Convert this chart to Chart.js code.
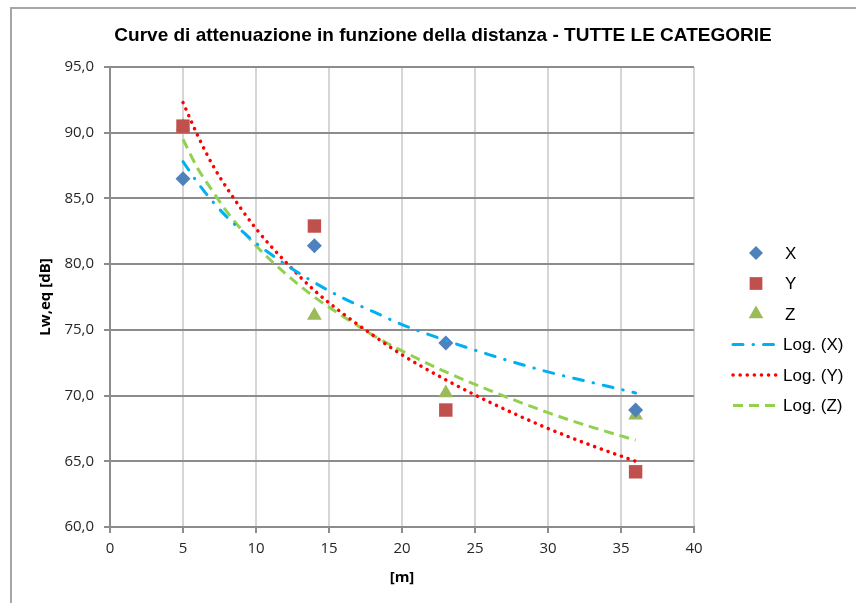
<!DOCTYPE html>
<html>
<head>
<meta charset="utf-8">
<script src="https://cdn.jsdelivr.net/npm/chart.js@4.4.1/dist/chart.umd.min.js"></script>
<style>
html,body{margin:0;padding:0;background:#fff;}
#wrap{position:relative;width:856px;height:603px;overflow:hidden;}
#frame{position:absolute;left:10px;top:7px;width:900px;height:700px;border-top:2px solid #a6a6a6;border-left:2px solid #a6a6a6;}
#c{position:absolute;left:0;top:0;}
</style>
</head>
<body>
<div id="wrap"><div id="frame"></div><canvas id="c" width="856" height="603"></canvas></div>
<script>
// ---- data ----
const distances = [5, 14, 23, 36];
const seriesX = [86.5, 81.4, 74.0, 68.9];
const seriesY = [90.5, 82.9, 68.9, 64.2];
const seriesZ = [90.5, 76.1, 70.2, 68.5];

const trendDistances = [5, 6, 7, 8, 10, 12, 14, 16, 18, 20, 23, 26, 30, 33, 36];
const trendX = [87.8, 86.2, 84.8, 83.6, 81.6, 80.0, 78.6, 77.4, 76.4, 75.4, 74.2, 73.1, 71.8, 71.0, 70.2];
const trendY = [92.3, 89.8, 87.6, 85.8, 82.7, 80.2, 78.0, 76.2, 74.6, 73.1, 71.2, 69.5, 67.5, 66.2, 65.0];
const trendZ = [89.5, 87.3, 85.6, 84.0, 81.4, 79.3, 77.5, 76.0, 74.6, 73.4, 71.8, 70.4, 68.7, 67.6, 66.6];

const xTicks = [0, 5, 10, 15, 20, 25, 30, 35, 40];
const yTicks = [60, 65, 70, 75, 80, 85, 90, 95];

const seriesNames = ['X', 'Y', 'Z'];
const trendNames = ['Log. (X)', 'Log. (Y)', 'Log. (Z)'];
const chartTitle = 'Curve di attenuazione in funzione della distanza - TUTTE LE CATEGORIE';
const xTitle = '[m]';
const yTitle = 'Lw,eq [dB]';

// ---- styles ----
const markerColors = ['#4f81bd', '#c0504d', '#9bbb59'];
const markerStyles = ['rectRot', 'rect', 'triangle'];
const markerRadius = [7.5, 9.5, 8.5];
const legendMarkerRadius = [7, 9, 8.5];
const trendColors = ['#00b0f0', '#ff0000', '#92d050'];
const trendDash = [[10, 10, 0.5, 10], [0.1, 7], [10, 6]];
const trendCap = ['round', 'round', 'butt'];
const trendWidth = [3, 3.5, 3];

function pts(xs, ys) { return xs.map((x, i) => ({x: x, y: ys[i]})); }

const markerData = [seriesX, seriesY, seriesZ];
const trendData = [trendX, trendY, trendZ];

const datasets = [];
trendData.forEach((t, i) => {
  datasets.push({
    label: trendNames[i],
    data: pts(trendDistances, t),
    showLine: true,
    pointRadius: 0,
    borderColor: trendColors[i],
    backgroundColor: trendColors[i],
    borderWidth: trendWidth[i],
    borderDash: trendDash[i],
    borderCapStyle: trendCap[i],
    cubicInterpolationMode: 'monotone',
    order: 0
  });
});
markerData.forEach((s, i) => {
  datasets.push({
    label: seriesNames[i],
    data: pts(distances, s),
    showLine: false,
    pointStyle: markerStyles[i],
    pointRadius: markerRadius[i],
    backgroundColor: markerColors[i],
    borderColor: markerColors[i],
    borderWidth: 0,
    pointBorderWidth: 0,
    order: 1
  });
});

const tickFont = {family: '"Open Sans", "Noto Sans", sans-serif', size: 15};
const axisTitleFont = {family: '"Open Sans", "Noto Sans", sans-serif', size: 15, weight: 'bold'};

function drawMarker(c, style, x, y, r, color) {
  c.save();
  c.fillStyle = color;
  c.strokeStyle = color;
  Chart.helpers.drawPoint(c, {pointStyle: style, radius: r, borderWidth: 0, rotation: 0}, x, y);
  c.restore();
}

const legendPlugin = {
  id: 'excelLegend',
  afterDraw(chart) {
    const c = chart.ctx;
    const area = chart.chartArea;
    const cx = area.right + 62;
    const x0 = area.right + 39, x1 = area.right + 87;
    const tx = area.right + 91;
    const y0 = 253, step = 30.5;
    c.save();
    c.font = '17px "Liberation Sans", Arial, sans-serif';
    c.textBaseline = 'middle';
    c.textAlign = 'left';
    for (let i = 0; i < 3; i++) {
      const y = y0 + step * i;
      drawMarker(c, markerStyles[i], cx, y, legendMarkerRadius[i], markerColors[i]);
      c.fillStyle = '#000';
      c.fillText(seriesNames[i], tx, y + 1);
    }
    for (let i = 0; i < 3; i++) {
      const y = y0 + step * (i + 3);
      c.save();
      c.strokeStyle = trendColors[i];
      c.lineWidth = trendWidth[i];
      c.setLineDash(trendDash[i]);
      c.lineCap = trendCap[i];
      c.beginPath();
      c.moveTo(x0, y);
      c.lineTo(x1, y);
      c.stroke();
      c.restore();
      c.fillStyle = '#000';
      c.fillText(trendNames[i], tx - 2, y + 1);
    }
    c.restore();
  }
};

const titlePlugin = {
  id: 'excelTitle',
  afterDraw(chart) {
    const c = chart.ctx;
    c.save();
    c.font = 'bold 19px "Liberation Sans", Arial, sans-serif';
    c.fillStyle = '#000';
    c.textAlign = 'center';
    c.textBaseline = 'middle';
    c.fillText(chartTitle, 443, 36);
    c.restore();
  }
};

new Chart(document.getElementById('c'), {
  type: 'scatter',
  data: {datasets: datasets},
  options: {
    responsive: false,
    animation: false,
    layout: {padding: {left: 33, right: 162, top: 67, bottom: 12}},
    plugins: {legend: {display: false}, tooltip: {enabled: false}, title: {display: false}},
    scales: {
      x: {
        type: 'linear',
        min: xTicks[0],
        max: xTicks[xTicks.length - 1],
        afterBuildTicks: s => { s.ticks = xTicks.map(v => ({value: v})); },
        afterFit: s => { s.height = 64; },
        ticks: {font: tickFont, color: '#262626', padding: 7, maxRotation: 0, callback: v => String(v)},
        grid: {color: '#d6d6d6', lineWidth: 2, tickLength: 6, tickColor: '#8c8c8c', tickWidth: 2},
        border: {color: '#8c8c8c', width: 2},
        title: {display: true, text: xTitle, font: axisTitleFont, color: '#000', padding: {top: 12, bottom: 4}}
      },
      y: {
        type: 'linear',
        min: yTicks[0],
        max: yTicks[yTicks.length - 1],
        afterBuildTicks: s => { s.ticks = yTicks.map(v => ({value: v})); },
        afterFit: s => { s.width = 77; },
        ticks: {font: tickFont, color: '#262626', padding: 10, callback: v => v.toFixed(1).replace('.', ',')},
        grid: {color: '#8c8c8c', lineWidth: 2, tickLength: 6, tickColor: '#8c8c8c', tickWidth: 2},
        border: {color: '#8c8c8c', width: 2},
        title: {display: true, text: yTitle, font: axisTitleFont, color: '#000', padding: {top: 4, bottom: 4}}
      }
    }
  },
  plugins: [legendPlugin, titlePlugin]
});
</script>
</body>
</html>
